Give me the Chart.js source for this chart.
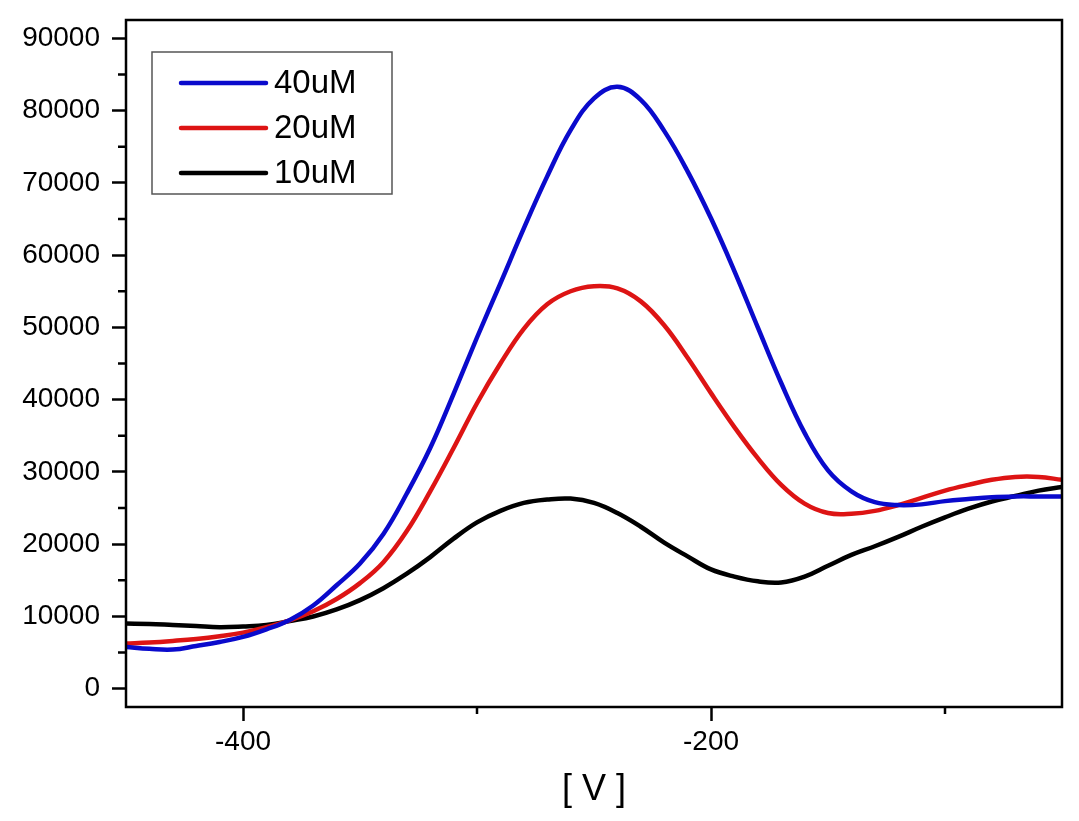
<!DOCTYPE html>
<html>
<head>
<meta charset="utf-8">
<script src="https://cdn.jsdelivr.net/npm/chart.js@4/dist/chart.umd.min.js"></script>
<style>
  html, body { margin: 0; padding: 0; background: #fff; }
  #wrap { width: 1079px; height: 821px; position: relative; }
</style>
</head>
<body>
<div id="wrap"><canvas id="c" width="1079" height="821"></canvas></div>
<script>
// ---- data ----
const potentials = [-450,-440,-430,-420,-410,-400,-390,-380,-370,-360,-350,-340,-330,-320,-310,-300,-290,-280,-270,-260,-250,-240,-230,-220,-210,-200,-190,-180,-170,-160,-150,-140,-130,-120,-110,-100,-90,-80,-70,-60,-50];
const series40uM = [5760,5500,5400,5900,6450,7150,8200,9500,11500,14300,17300,21400,27000,33300,40800,48600,56100,63700,70900,77300,81700,83300,81500,77200,71600,65100,57800,50000,42300,35400,30200,27300,25800,25400,25500,25950,26250,26500,26600,26600,26600];
const series20uM = [6230,6380,6600,6870,7250,7750,8500,9450,10700,12400,14600,17500,21800,27300,33300,39500,45000,49800,53200,55000,55700,55400,53600,50300,45800,40900,36200,31900,28200,25600,24300,24200,24600,25400,26400,27400,28200,28900,29300,29300,28900];
const series10uM = [9000,8950,8800,8650,8500,8600,8800,9350,9980,10960,12250,13900,15900,18200,20750,23000,24600,25700,26170,26300,25700,24300,22400,20200,18300,16500,15500,14850,14700,15500,17000,18500,19700,21000,22400,23700,24900,25900,26650,27400,27900];
const seriesLabels = ['40uM', '20uM', '10uM'];
const seriesColors = ['#0a0acc', '#dd1414', '#000000'];
const xTickValues = [-400, -300, -200, -100];
const xMajorLabels = [-400, -200];
const yTickValues = [0,5000,10000,15000,20000,25000,30000,35000,40000,45000,50000,55000,60000,65000,70000,75000,80000,85000,90000];
const yLabelStep = 10000;
const axisTitleX = '[ V ]';

const FONT = "'Liberation Sans', Arial, Helvetica, sans-serif";

function toPoints(arr) { return potentials.map((x, i) => ({ x: x, y: arr[i] })); }

const allSeries = [series40uM, series20uM, series10uM];
const datasets = allSeries.map((s, i) => ({
  label: seriesLabels[i],
  data: toPoints(s),
  borderColor: seriesColors[i],
  backgroundColor: seriesColors[i],
  borderWidth: 4.5,
  pointRadius: 0,
  tension: 0.4,
  fill: false
}));

// frame, minor ticks, inside legend
const decor = {
  id: 'decor',
  afterDraw(chart) {
    const ctx = chart.ctx;
    const a = chart.chartArea;
    const xs = chart.scales.x, ys = chart.scales.y;
    ctx.save();
    ctx.strokeStyle = '#000';
    ctx.lineWidth = 2.5;
    ctx.strokeRect(a.left, a.top, a.right - a.left, a.bottom - a.top);
    // minor ticks
    ctx.beginPath();
    yTickValues.forEach(v => {
      if (v % yLabelStep !== 0) {
        const py = ys.getPixelForValue(v);
        ctx.moveTo(a.left - 8, py); ctx.lineTo(a.left, py);
      }
    });
    xTickValues.forEach(v => {
      if (!xMajorLabels.includes(v)) {
        const px = xs.getPixelForValue(v);
        ctx.moveTo(px, a.bottom); ctx.lineTo(px, a.bottom + 7);
      }
    });
    ctx.stroke();
    // legend
    const lx = 152, ly = 52, lw = 240, lh = 142;
    ctx.fillStyle = '#fff';
    ctx.fillRect(lx, ly, lw, lh);
    ctx.strokeStyle = '#555';
    ctx.lineWidth = 1.5;
    ctx.strokeRect(lx, ly, lw, lh);
    ctx.font = '33px ' + FONT;
    ctx.textBaseline = 'middle';
    ctx.textAlign = 'left';
    chart.data.datasets.forEach((ds, i) => {
      const yy = 83 + i * 45;
      ctx.strokeStyle = ds.borderColor;
      ctx.lineWidth = 4.5;
      ctx.lineCap = 'round';
      ctx.beginPath();
      ctx.moveTo(181, yy); ctx.lineTo(266, yy);
      ctx.stroke();
      ctx.fillStyle = '#000';
      ctx.fillText(ds.label, 274, yy + 1);
    });
    ctx.restore();
  }
};

new Chart(document.getElementById('c'), {
  type: 'line',
  data: { datasets: datasets },
  plugins: [decor],
  options: {
    responsive: false,
    animation: false,
    events: [],
    layout: { padding: { top: 20, right: 17, left: 0, bottom: 0 } },
    plugins: { legend: { display: false }, tooltip: { enabled: false } },
    scales: {
      x: {
        type: 'linear',
        min: -450,
        max: -50,
        afterBuildTicks(s) { s.ticks = xTickValues.map(v => ({ value: v })); },
        afterFit(s) { s.height = 114; s.paddingLeft = 0; s.paddingRight = 0; },
        border: { display: false },
        grid: {
          drawOnChartArea: false,
          drawTicks: true,
          tickLength: 14,
          tickWidth: 2.5,
          tickColor: (c) => (c.tick && xMajorLabels.includes(c.tick.value)) ? '#000' : 'rgba(0,0,0,0)'
        },
        ticks: {
          autoSkip: false,
          maxRotation: 0,
          padding: 4,
          color: '#000',
          font: { family: FONT, size: 28 },
          callback: (v) => xMajorLabels.includes(v) ? String(v) : ''
        },
        title: {
          display: true,
          text: axisTitleX,
          color: '#000',
          font: { family: FONT, size: 36 },
          padding: { top: 0, bottom: 9 }
        }
      },
      y: {
        type: 'linear',
        min: -2550,
        max: 92550,
        afterBuildTicks(s) { s.ticks = yTickValues.map(v => ({ value: v })); },
        afterFit(s) { s.width = 126; s.paddingTop = 0; s.paddingBottom = 0; },
        border: { display: false },
        grid: {
          drawOnChartArea: false,
          drawTicks: true,
          tickLength: 14,
          tickWidth: 2.5,
          tickColor: (c) => (c.tick && c.tick.value % yLabelStep === 0) ? '#000' : 'rgba(0,0,0,0)'
        },
        ticks: {
          autoSkip: false,
          padding: 12,
          color: '#000',
          font: { family: FONT, size: 28 },
          callback: (v) => (v % yLabelStep === 0) ? String(v) : ''
        }
      }
    }
  }
});
</script>
</body>
</html>
